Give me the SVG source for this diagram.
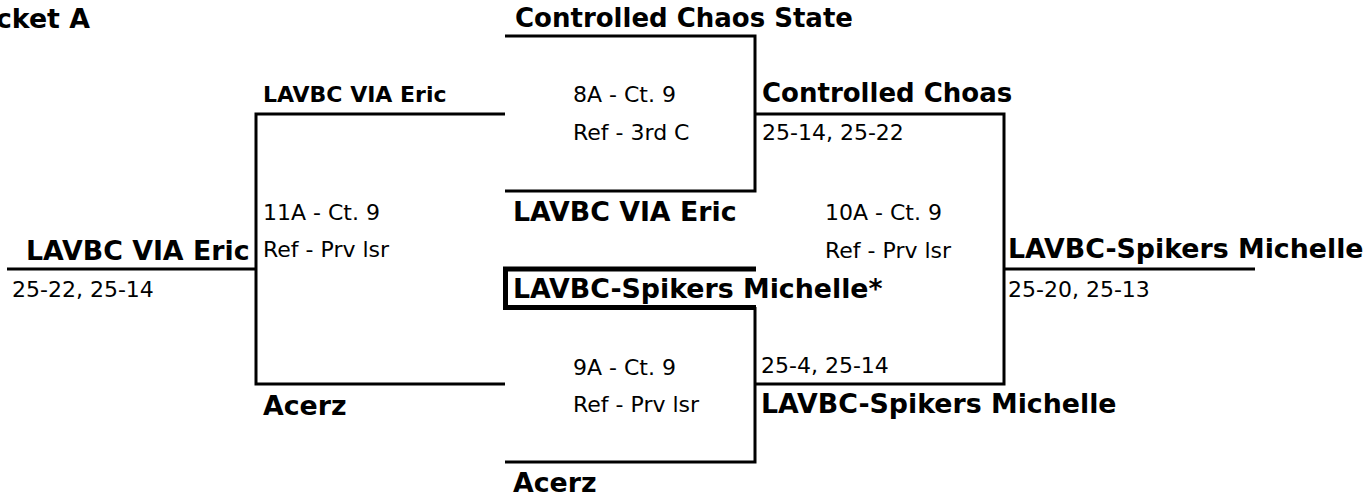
<svg xmlns="http://www.w3.org/2000/svg" width="1368" height="498" viewBox="0 0 1368 498">
<style>
text{font-family:"DejaVu Sans",Verdana,sans-serif;fill:#000}
.b{font-weight:bold;font-size:26.8px}
.bc{font-weight:bold;font-size:26px}
.bs{font-weight:bold;font-size:22px}
.r{font-size:22px}
.ln{stroke:#000;stroke-width:3;fill:none}
.box{stroke:#000;stroke-width:5;fill:none}
</style>
<rect width="1368" height="498" fill="#fff"/>
<g id="connectors">
<path class="ln" d="M505,36 H755 V191 H505"/>
<path class="ln" d="M505,114 H256 V384 H505"/>
<path class="ln" d="M755,114 H1004 V384 H755"/>
<path class="ln" d="M7,269 H256"/>
<path class="ln" d="M1004,269 H1255"/>
<path class="box" d="M756,269 H505.5 V307.5 H756"/>
<path class="ln" d="M755,307 V462 H505"/>
</g>
<g id="title"><text class="b" x="90" y="28" text-anchor="end">Bracket A</text></g>
<g id="team-ccs"><text class="bc" x="515" y="27">Controlled Chaos State</text></g>
<g id="team-lavbc-top"><text class="bs" x="263" y="102">LAVBC VIA Eric</text></g>
<g id="match-8A">
<text class="r" x="573" y="102">8A - Ct. 9</text>
<text class="r" x="573" y="140">Ref - 3rd C</text>
</g>
<g id="winner-8A">
<text class="bc" x="762" y="102">Controlled Choas</text>
<text class="r" x="762" y="140">25-14, 25-22</text>
</g>
<g id="match-11A">
<text class="r" x="263" y="220">11A - Ct. 9</text>
<text class="r" x="263" y="257">Ref - Prv lsr</text>
</g>
<g id="winner-11A">
<text class="b" x="26" y="260">LAVBC VIA Eric</text>
<text class="r" x="12" y="297">25-22, 25-14</text>
</g>
<g id="team-lavbc-mid"><text class="b" x="513" y="221">LAVBC VIA Eric</text></g>
<g id="match-10A">
<text class="r" x="825" y="220">10A - Ct. 9</text>
<text class="r" x="825" y="258">Ref - Prv lsr</text>
</g>
<g id="winner-10A">
<text class="b" x="1008" y="258">LAVBC-Spikers Michelle</text>
<text class="r" x="1008" y="297">25-20, 25-13</text>
</g>
<g id="team-spikers"><text class="b" x="513" y="298">LAVBC-Spikers Michelle*</text></g>
<g id="match-9A">
<text class="r" x="573" y="375">9A - Ct. 9</text>
<text class="r" x="573" y="412">Ref - Prv lsr</text>
</g>
<g id="winner-9A">
<text class="r" x="761" y="373">25-4, 25-14</text>
<text class="b" x="761" y="413">LAVBC-Spikers Michelle</text>
</g>
<g id="team-acerz-left"><text class="b" x="263" y="415">Acerz</text></g>
<g id="team-acerz-bottom"><text class="b" x="513" y="492">Acerz</text></g>
</svg>
